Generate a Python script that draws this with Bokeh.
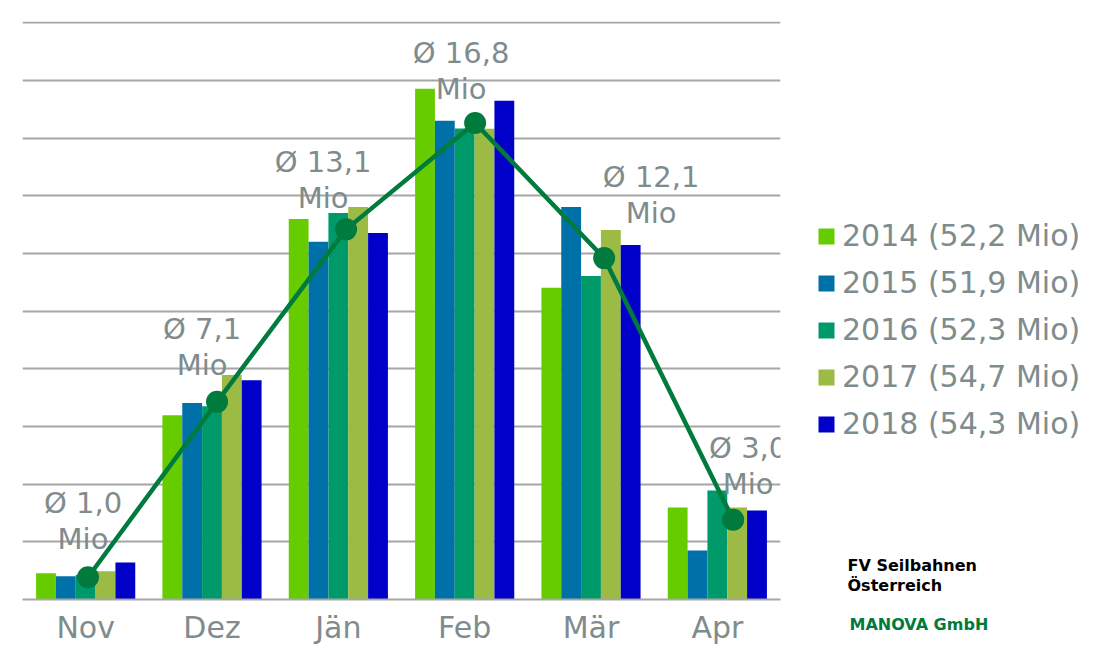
from bokeh.plotting import figure
from bokeh.layouts import row
from bokeh.models import (ColumnDataSource, Range1d, FixedTicker,
                          Legend, LegendItem, Label, Title)
from bokeh.transform import dodge
from bokeh.core.properties import value
from bokeh.embed import file_html
from bokeh.resources import INLINE

# ---- data ----
months = ["Nov", "Dez", "Jän", "Feb", "Mär", "Apr"]
years = ["2014", "2015", "2016", "2017", "2018"]
totals = ["52,2", "51,9", "52,3", "54,7", "54,3"]
v2014 = [0.91, 6.39, 13.19, 17.71, 10.81, 3.19]
v2015 = [0.81, 6.81, 12.40, 16.60, 13.61, 1.70]
v2016 = [0.85, 6.70, 13.40, 16.33, 11.22, 3.78]
v2017 = [0.98, 7.78, 13.61, 16.32, 12.81, 3.19]
v2018 = [1.28, 7.60, 12.71, 17.29, 12.29, 3.09]
avg = [1.0, 7.1, 13.1, 16.8, 12.1, 3.0]
unit_label = "Mio"
source_lines = ["FV Seilbahnen", "Österreich"]
author = "MANOVA GmbH"

# ---- styles / layout ----
colors = ["#66cc00", "#0070a8", "#00996a", "#9bbb45", "#0000c8"]
line_color = "#007a3d"
text_gray = "#7f8c8d"
grid_gray = "#a6a6a6"
FONT = "DejaVu Sans"
label_dx = [-5, -15, -23, -14, 47, 15]      # screen px shift of avg labels
label_dy = [38, 37, 31, 34, 45, 36]         # px above the dot for "Mio" line
bar_w = 0.157

pos = [i + 0.5 for i in range(len(months))]   # category centres
data = dict(pos=pos)
series = [v2014, v2015, v2016, v2017, v2018]
for y, s in zip(years, series):
    data["y" + y] = s
src = ColumnDataSource(data)

p = figure(width=792, height=651, output_backend="svg", toolbar_location=None,
           x_range=Range1d(0, len(months)), y_range=Range1d(0, 20.04),
           y_axis_location=None, min_border_left=22, min_border_right=12,
           min_border_top=21, min_border_bottom=52)
# the average line sits on its own (secondary) scales, as in the original
p.extra_x_ranges = {"avg": Range1d(-0.5076, 5.3666)}
p.extra_y_ranges = {"avg": Range1d(0.226, 20.33)}
p.outline_line_color = None
p.background_fill_color = "white"
p.border_fill_color = "white"

p.xgrid.grid_line_color = None
p.ygrid.ticker = FixedTicker(ticks=list(range(0, 21, 2)))
p.ygrid.grid_line_color = grid_gray
p.ygrid.grid_line_width = 2

p.xaxis.ticker = FixedTicker(ticks=pos)
p.xaxis.major_label_overrides = {x: m for x, m in zip(pos, months)}
p.xaxis.axis_line_color = grid_gray
p.xaxis.axis_line_width = 2
p.xaxis.major_tick_line_color = None
p.xaxis.minor_tick_line_color = None
p.xaxis.major_label_text_font = FONT
p.xaxis.major_label_text_font_size = "30px"
p.xaxis.major_label_text_color = text_gray
p.xaxis.major_label_standoff = 4

for k, y in enumerate(years):
    p.vbar(x=dodge("pos", (k - 2) * bar_w), top="y" + y,
           width=bar_w, source=src, fill_color=colors[k], line_color=None)

lsrc = ColumnDataSource(dict(idx=list(range(len(months))), avg=avg,
                             lab=["Ø " + f"{v:.1f}".replace(".", ",") for v in avg],
                             unit=[unit_label] * len(months),
                             dx=label_dx,
                             dy1=[-(d + 36) for d in label_dy],
                             dy2=[-d for d in label_dy]))
kw = dict(source=lsrc, x_range_name="avg", y_range_name="avg")
p.line(x="idx", y="avg", line_color=line_color, line_width=4.5, **kw)
p.scatter(x="idx", y="avg", size=22, fill_color=line_color, line_color=None, **kw)
p.text(x="idx", y="avg", text="lab", x_offset="dx", y_offset="dy1",
       text_font=value(FONT), text_font_size="29px", text_color=text_gray,
       text_align="center", text_baseline="middle", **kw)
p.text(x="idx", y="avg", text="unit", x_offset="dx", y_offset="dy2",
       text_font=value(FONT), text_font_size="29px", text_color=text_gray,
       text_align="center", text_baseline="middle", **kw)

# ---- side panel with legend and credits ----
p2 = figure(width=300, height=651, output_backend="svg", toolbar_location=None,
            x_range=Range1d(0, 1), y_range=Range1d(0, 1),
            x_axis_location=None, y_axis_location=None, min_border=0)
p2.outline_line_color = None
p2.grid.visible = False
p2.background_fill_color = "white"
p2.border_fill_color = "white"

# zero-size stand-in bars, only used as legend keys for the colours
key_renderers = [p2.vbar(x=[0], top=[0], width=0, fill_color=c, line_color=None)
                 for c in colors]
items = [LegendItem(label=f"{y} ({t} Mio)", renderers=[r])
         for y, t, r in zip(years, totals, key_renderers)]
legend = Legend(items=items, location=(24, 158), padding=0, margin=0,
                spacing=12, glyph_width=20, glyph_height=20, label_standoff=6,
                label_text_font=FONT, label_text_font_size="30px",
                label_text_color=text_gray, border_line_color=None,
                background_fill_alpha=0)
p2.add_layout(legend)

for txt, yy in zip(source_lines, [34, 14]):
    p2.add_layout(Label(x=55, y=yy, x_units="screen", y_units="screen", text=txt,
                        text_font=FONT, text_font_size="16px", text_font_style="bold",
                        text_color="black", text_baseline="middle"))
p2.add_layout(Title(text=author, align="left", offset=57, standoff=26,
                    text_font=FONT, text_font_size="16px", text_font_style="bold",
                    text_color=line_color), "below")

open("out.html", "w").write(file_html(row(p, p2), INLINE))
